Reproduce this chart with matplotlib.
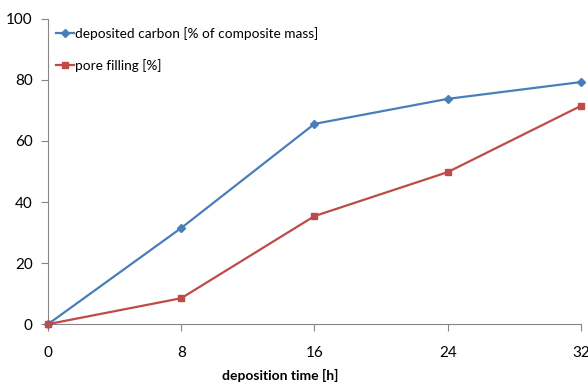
import matplotlib
matplotlib.use("Agg")
import matplotlib.pyplot as plt

plt.rcParams['font.family'] = ['Lato', 'DejaVu Sans']

hours = [0, 8, 16, 24, 32]
carbon = [0, 31.5, 65.6, 73.8, 79.3]
pore = [0, 8.5, 35.4, 49.8, 71.5]
xticks = [0, 8, 16, 24, 32]
yticks = [0, 20, 40, 60, 80, 100]

fig = plt.figure(figsize=(5.88, 3.85), dpi=100)
ax = fig.add_axes([0.0816, 0.158, 0.9064, 0.793])

ax.plot(hours, carbon, color='#4a7ebb', lw=1.6, marker='D', ms=4,
        label='deposited carbon [% of composite mass]', clip_on=False, zorder=3)
ax.plot(hours, pore, color='#be4b48', lw=1.6, marker='s', ms=5,
        label='pore filling [%]', clip_on=False, zorder=3)

ax.set_xlim(0, 32)
ax.set_ylim(0, 100)
ax.set_xticks(xticks)
ax.set_yticks(yticks)
for s in ['top', 'right']:
    ax.spines[s].set_visible(False)
for s in ['left', 'bottom']:
    ax.spines[s].set_color('#868686')
ax.tick_params(axis='both', colors='#868686', labelcolor='black', labelsize=11, length=5)
ax.tick_params(axis='x', pad=11)
ax.tick_params(axis='y', pad=6)
ax.set_xlabel('deposition time [h]', fontsize=10, fontweight='bold')
ax.xaxis.set_label_coords(0.436, -0.148)

leg = ax.legend(loc='upper left', bbox_to_anchor=(0.0, 1.0), frameon=False,
                fontsize=9.8, handlelength=1.3, handletextpad=0.1,
                labelspacing=1.4, borderaxespad=0.2)

fig.savefig('out.png', dpi=100)
